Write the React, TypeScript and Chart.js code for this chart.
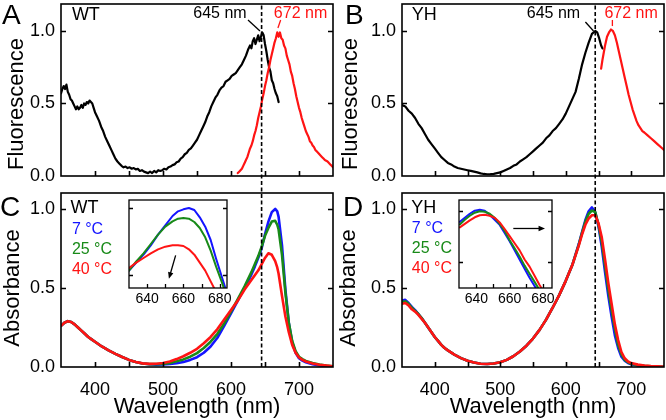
import React, { useEffect, useRef } from 'react';
import { Chart, registerables } from 'chart.js';

Chart.register(...registerables);

const FONT_FAMILY = '"Liberation Sans", Arial, Helvetica, sans-serif';
const W = 666;
const H = 420;

// ---------------- DATA ----------------
// Panel A (WT fluorescence): black excitation spectrum, red emission spectrum
const wtExcNm = [350, 352, 354, 356, 358, 360, 362, 364, 366, 368, 370, 372, 374, 376, 378, 380, 382, 384, 386, 388, 390, 392, 394, 396, 398, 400, 403, 406, 409, 412, 415, 418, 421, 424, 427, 430, 433, 436, 439, 442, 445, 448, 451, 454, 457, 460, 463, 466, 469, 472, 475, 478, 481, 484, 487, 490, 493, 496, 499, 502, 505, 508, 511, 514, 517, 520, 523, 526, 529, 532, 535, 538, 541, 544, 547, 550, 553, 556, 559, 562, 565, 568, 571, 574, 577, 580, 583, 586, 589, 592, 595, 598, 601, 604, 607, 610, 613, 616, 619, 622, 625, 628, 630, 632, 634, 636, 638, 640, 642, 644, 646, 648, 650, 652, 654, 656, 658, 660, 662, 664, 666, 668, 670];
const wtExcVal = [0.57, 0.60, 0.62, 0.60, 0.63, 0.58, 0.56, 0.53, 0.52, 0.50, 0.48, 0.46, 0.48, 0.46, 0.47, 0.49, 0.47, 0.50, 0.49, 0.51, 0.50, 0.52, 0.51, 0.50, 0.47, 0.44, 0.41, 0.38, 0.34, 0.31, 0.27, 0.24, 0.21, 0.18, 0.15, 0.12, 0.10, 0.085, 0.07, 0.06, 0.065, 0.055, 0.06, 0.05, 0.055, 0.045, 0.05, 0.035, 0.04, 0.03, 0.025, 0.02, 0.03, 0.02, 0.035, 0.025, 0.04, 0.035, 0.04, 0.05, 0.045, 0.06, 0.065, 0.075, 0.08, 0.095, 0.10, 0.12, 0.13, 0.15, 0.16, 0.18, 0.19, 0.21, 0.23, 0.25, 0.28, 0.31, 0.34, 0.37, 0.41, 0.44, 0.48, 0.51, 0.54, 0.56, 0.59, 0.61, 0.62, 0.65, 0.66, 0.67, 0.69, 0.70, 0.71, 0.73, 0.75, 0.77, 0.80, 0.83, 0.87, 0.90, 0.88, 0.93, 0.95, 0.91, 0.94, 0.97, 0.93, 0.96, 0.99, 0.97, 0.91, 0.86, 0.80, 0.75, 0.72, 0.66, 0.64, 0.60, 0.57, 0.55, 0.51];
const wtEmNm = [610, 612, 614, 616, 618, 620, 622, 624, 626, 628, 630, 632, 634, 636, 638, 640, 642, 644, 646, 648, 650, 652, 654, 656, 658, 660, 662, 664, 666, 668, 670, 672, 674, 676, 678, 680, 682, 684, 686, 688, 690, 692, 694, 696, 698, 700, 702, 704, 706, 708, 710, 712, 714, 716, 718, 720, 722, 724, 726, 728, 730, 732, 734, 736, 738, 740, 742, 744, 746, 748, 750];
const wtEmVal = [0.02, 0.03, 0.04, 0.05, 0.07, 0.09, 0.11, 0.13, 0.16, 0.19, 0.21, 0.24, 0.28, 0.31, 0.35, 0.40, 0.44, 0.48, 0.53, 0.57, 0.62, 0.66, 0.71, 0.75, 0.80, 0.84, 0.88, 0.92, 0.95, 0.99, 0.96, 0.99, 0.95, 0.94, 0.90, 0.88, 0.83, 0.80, 0.77, 0.72, 0.69, 0.64, 0.60, 0.55, 0.51, 0.47, 0.44, 0.40, 0.37, 0.34, 0.31, 0.29, 0.27, 0.24, 0.23, 0.21, 0.20, 0.18, 0.17, 0.16, 0.15, 0.14, 0.13, 0.12, 0.11, 0.105, 0.10, 0.09, 0.08, 0.07, 0.06];

// Panel B (YH fluorescence)
const yhExcNm = [350, 355, 360, 365, 370, 375, 380, 385, 390, 395, 400, 405, 410, 415, 420, 425, 430, 435, 440, 445, 450, 455, 460, 465, 470, 475, 480, 485, 490, 495, 500, 505, 510, 515, 520, 525, 530, 535, 540, 545, 550, 555, 560, 565, 570, 575, 580, 585, 590, 595, 600, 605, 610, 615, 620, 625, 630, 635, 640, 645, 648, 651, 654, 656];
const yhExcVal = [0.49, 0.48, 0.45, 0.43, 0.40, 0.36, 0.33, 0.29, 0.25, 0.22, 0.19, 0.16, 0.13, 0.11, 0.09, 0.08, 0.065, 0.055, 0.05, 0.045, 0.04, 0.035, 0.03, 0.025, 0.018, 0.014, 0.012, 0.013, 0.015, 0.02, 0.025, 0.035, 0.045, 0.055, 0.07, 0.08, 0.10, 0.115, 0.13, 0.15, 0.17, 0.19, 0.21, 0.23, 0.26, 0.28, 0.31, 0.33, 0.36, 0.39, 0.43, 0.48, 0.53, 0.58, 0.67, 0.77, 0.85, 0.92, 0.98, 1.00, 0.99, 0.95, 0.90, 0.88];
const yhEmNm = [654, 656, 658, 660, 663, 666, 669, 672, 675, 678, 681, 684, 687, 690, 693, 696, 699, 702, 705, 708, 711, 714, 717, 720, 725, 730, 735, 740, 745, 750];
const yhEmVal = [0.74, 0.80, 0.85, 0.90, 0.96, 0.99, 1.01, 1.00, 0.97, 0.92, 0.86, 0.80, 0.74, 0.68, 0.62, 0.56, 0.51, 0.46, 0.42, 0.38, 0.35, 0.33, 0.31, 0.30, 0.28, 0.26, 0.24, 0.22, 0.20, 0.18];

// Panel C (WT absorbance at 7, 25, 40 °C)
const wtAbsNm = [350, 355, 360, 365, 370, 375, 380, 385, 390, 395, 400, 410, 420, 430, 440, 450, 460, 470, 480, 490, 500, 510, 520, 530, 540, 550, 560, 570, 580, 590, 600, 610, 620, 630, 635, 640, 645, 650, 655, 660, 665, 668, 670, 675, 680, 685, 690, 695, 700, 705, 710, 720, 730, 740, 750];
const wtAbs7 = [0.26, 0.28, 0.29, 0.285, 0.27, 0.25, 0.23, 0.21, 0.19, 0.175, 0.16, 0.13, 0.105, 0.083, 0.063, 0.045, 0.032, 0.022, 0.017, 0.015, 0.016, 0.019, 0.024, 0.032, 0.045, 0.062, 0.09, 0.13, 0.185, 0.26, 0.34, 0.42, 0.50, 0.585, 0.635, 0.69, 0.75, 0.84, 0.92, 0.98, 1.00, 0.985, 0.95, 0.77, 0.49, 0.28, 0.155, 0.09, 0.055, 0.04, 0.03, 0.018, 0.01, 0.006, 0.003];
const wtAbs25 = [0.26, 0.28, 0.29, 0.285, 0.27, 0.25, 0.23, 0.21, 0.19, 0.175, 0.16, 0.13, 0.105, 0.083, 0.063, 0.045, 0.032, 0.022, 0.018, 0.018, 0.02, 0.026, 0.036, 0.048, 0.065, 0.088, 0.12, 0.16, 0.21, 0.275, 0.35, 0.43, 0.51, 0.60, 0.65, 0.70, 0.76, 0.83, 0.88, 0.92, 0.925, 0.90, 0.87, 0.71, 0.47, 0.28, 0.165, 0.10, 0.065, 0.05, 0.038, 0.025, 0.016, 0.01, 0.005];
const wtAbs40 = [0.26, 0.28, 0.29, 0.285, 0.27, 0.25, 0.23, 0.21, 0.19, 0.175, 0.16, 0.13, 0.105, 0.083, 0.063, 0.045, 0.032, 0.023, 0.02, 0.021, 0.025, 0.035, 0.05, 0.068, 0.09, 0.115, 0.15, 0.19, 0.24, 0.30, 0.36, 0.42, 0.49, 0.55, 0.58, 0.61, 0.65, 0.69, 0.72, 0.71, 0.67, 0.63, 0.59, 0.45, 0.32, 0.22, 0.14, 0.09, 0.06, 0.045, 0.035, 0.022, 0.014, 0.01, 0.005];

// Panel D (YH absorbance at 7, 25, 40 °C)
const yhAbsNm = [350, 355, 360, 365, 370, 375, 380, 385, 390, 395, 400, 405, 410, 415, 420, 430, 440, 450, 460, 470, 480, 490, 500, 510, 520, 530, 540, 550, 560, 570, 580, 590, 600, 610, 620, 625, 630, 635, 640, 645, 650, 655, 660, 665, 670, 675, 680, 685, 690, 695, 700, 710, 720, 730, 740, 750];
const yhAbs7 = [0.42, 0.425, 0.405, 0.38, 0.36, 0.335, 0.31, 0.28, 0.25, 0.22, 0.19, 0.165, 0.14, 0.12, 0.105, 0.078, 0.056, 0.04, 0.028, 0.021, 0.019, 0.022, 0.03, 0.045, 0.068, 0.098, 0.135, 0.18, 0.235, 0.30, 0.375, 0.455, 0.545, 0.645, 0.78, 0.855, 0.93, 0.985, 1.01, 0.98, 0.89, 0.76, 0.60, 0.45, 0.32, 0.20, 0.12, 0.065, 0.04, 0.025, 0.018, 0.01, 0.006, 0.004, 0.002, 0.001];
const yhAbs25 = [0.41, 0.415, 0.40, 0.375, 0.355, 0.335, 0.31, 0.28, 0.25, 0.22, 0.19, 0.165, 0.14, 0.12, 0.105, 0.078, 0.056, 0.04, 0.028, 0.021, 0.019, 0.022, 0.03, 0.045, 0.068, 0.098, 0.135, 0.18, 0.235, 0.30, 0.375, 0.455, 0.545, 0.645, 0.775, 0.85, 0.92, 0.97, 0.99, 0.98, 0.90, 0.79, 0.64, 0.49, 0.36, 0.24, 0.14, 0.08, 0.045, 0.03, 0.02, 0.012, 0.008, 0.005, 0.003, 0.001];
const yhAbs40 = [0.40, 0.405, 0.39, 0.365, 0.35, 0.33, 0.305, 0.28, 0.25, 0.22, 0.19, 0.165, 0.14, 0.12, 0.105, 0.078, 0.056, 0.04, 0.028, 0.021, 0.019, 0.022, 0.03, 0.045, 0.068, 0.098, 0.135, 0.18, 0.235, 0.30, 0.375, 0.455, 0.545, 0.645, 0.77, 0.84, 0.90, 0.94, 0.96, 0.96, 0.91, 0.82, 0.68, 0.53, 0.40, 0.27, 0.17, 0.095, 0.055, 0.035, 0.025, 0.015, 0.01, 0.006, 0.004, 0.002];

// Inset of C (zoom on WT Qy band)
const wtInsetNm = [630, 634, 638, 642, 646, 650, 654, 657, 660, 663, 666, 669, 672, 675, 678, 681, 684, 687];
const wtInset7 = [0.53, 0.59, 0.65, 0.72, 0.80, 0.87, 0.94, 0.975, 0.99, 1.0, 0.985, 0.93, 0.86, 0.76, 0.62, 0.49, 0.36, 0.25];
const wtInset25 = [0.53, 0.60, 0.66, 0.73, 0.80, 0.86, 0.90, 0.92, 0.925, 0.92, 0.895, 0.85, 0.78, 0.68, 0.56, 0.45, 0.33, 0.22];
const wtInset40 = [0.55, 0.59, 0.625, 0.66, 0.69, 0.71, 0.72, 0.72, 0.715, 0.69, 0.65, 0.59, 0.53, 0.45, 0.37, 0.29, 0.21, 0.14];

// Inset of D (zoom on YH Qy band)
const yhInsetNm = [630, 633, 636, 639, 642, 645, 648, 651, 654, 657, 660, 663, 666, 669, 672, 675, 678, 681, 684, 687];
const yhInset7 = [0.89, 0.93, 0.97, 1.0, 1.01, 1.0, 0.96, 0.91, 0.86, 0.78, 0.70, 0.61, 0.52, 0.43, 0.34, 0.26, 0.18, 0.11, 0.06, 0.03];
const yhInset25 = [0.865, 0.91, 0.95, 0.98, 0.995, 0.99, 0.97, 0.93, 0.87, 0.80, 0.71, 0.63, 0.55, 0.46, 0.38, 0.30, 0.22, 0.14, 0.08, 0.04];
const yhInset40 = [0.836, 0.87, 0.905, 0.935, 0.955, 0.96, 0.95, 0.93, 0.885, 0.82, 0.75, 0.68, 0.61, 0.52, 0.45, 0.36, 0.27, 0.19, 0.11, 0.06];

// Tick values & labels
const mainXLabels = [400, 500, 600, 700];
const mainXTickMarks = [400, 450, 500, 550, 600, 650, 700];
const mainYLabels = [0, 0.5, 1.0];
const mainYTickMarks = [0.5, 1.0];
const insetXLabels = [640, 660, 680];
const insetXTickMarks = [640, 650, 660, 670, 680];
const insetYTickMarks = [0.5, 1.0];
const tempLabels = ['7 °C', '25 °C', '40 °C'];
const markerNm = 645;
const peakLabels = ['645 nm', '672 nm'];

// ---------------- STYLE / LAYOUT ----------------
const BLACK = '#000000';
const BLUE = '#1414ff';
const GREEN = '#188a18';
const RED = '#ff1414';

const AREA_A = { left: 61, top: 4, right: 333, bottom: 176 };
const AREA_B = { left: 402, top: 4, right: 664, bottom: 176 };
const AREA_C = { left: 61, top: 193, right: 333, bottom: 367 };
const AREA_D = { left: 402, top: 193, right: 664, bottom: 367 };
const AREA_IC = { left: 129, top: 200, right: 227, bottom: 288 };
const AREA_ID = { left: 459, top: 200, right: 552, bottom: 288 };

type TextItem = {
  text: string; x: number; y: number; px?: boolean; color?: string; size?: number;
  align?: CanvasTextAlign; baseline?: CanvasTextBaseline; rotate?: boolean;
};
type Seg = { x1: number; y1: number; x2: number; y2: number; color?: string; head?: boolean; width?: number };
type Deco = {
  xTicks: number[]; yTicks: number[]; tickLen: number; frameWidth: number;
  vlineX?: number; vlineTop?: number; texts: TextItem[]; segs: Seg[];
};

function decoPlugin(d: Deco) {
  return {
    id: 'deco',
    afterDatasetsDraw(chart: any) {
      const { ctx, chartArea: a, scales } = chart;
      const x = scales.x;
      const y = scales.y;
      ctx.save();
      if (d.vlineX !== undefined) {
        const px = x.getPixelForValue(d.vlineX);
        ctx.strokeStyle = BLACK;
        ctx.lineWidth = 1.6;
        ctx.setLineDash([4, 2.5]);
        ctx.beginPath();
        ctx.moveTo(px, a.bottom);
        ctx.lineTo(px, d.vlineTop ?? a.top);
        ctx.stroke();
        ctx.setLineDash([]);
      }
      ctx.strokeStyle = BLACK;
      ctx.lineWidth = d.frameWidth;
      ctx.strokeRect(a.left, a.top, a.right - a.left, a.bottom - a.top);
      ctx.beginPath();
      for (const v of d.xTicks) {
        const px = Math.round(x.getPixelForValue(v)) + 0.5;
        ctx.moveTo(px, a.bottom);
        ctx.lineTo(px, a.bottom - d.tickLen);
      }
      for (const v of d.yTicks) {
        const py = Math.round(y.getPixelForValue(v)) + 0.5;
        ctx.moveTo(a.left, py);
        ctx.lineTo(a.left + d.tickLen, py);
        ctx.moveTo(a.right, py);
        ctx.lineTo(a.right - d.tickLen, py);
      }
      ctx.stroke();
      for (const s of d.segs) {
        const x1 = x.getPixelForValue(s.x1);
        const y1 = y.getPixelForValue(s.y1);
        const x2 = x.getPixelForValue(s.x2);
        const y2 = y.getPixelForValue(s.y2);
        ctx.strokeStyle = s.color || BLACK;
        ctx.fillStyle = s.color || BLACK;
        ctx.lineWidth = s.width || 1.3;
        const ang = Math.atan2(y2 - y1, x2 - x1);
        const hl = 7;
        const ex = s.head ? x2 - Math.cos(ang) * hl * 0.8 : x2;
        const ey = s.head ? y2 - Math.sin(ang) * hl * 0.8 : y2;
        ctx.beginPath();
        ctx.moveTo(x1, y1);
        ctx.lineTo(ex, ey);
        ctx.stroke();
        if (s.head) {
          ctx.beginPath();
          ctx.moveTo(x2, y2);
          ctx.lineTo(x2 - Math.cos(ang - 0.4) * hl, y2 - Math.sin(ang - 0.4) * hl);
          ctx.lineTo(x2 - Math.cos(ang + 0.4) * hl, y2 - Math.sin(ang + 0.4) * hl);
          ctx.closePath();
          ctx.fill();
        }
      }
      ctx.restore();
    },
    afterDraw(chart: any) {
      const { ctx, scales } = chart;
      ctx.save();
      for (const t of d.texts) {
        const px = t.px ? t.x : scales.x.getPixelForValue(t.x);
        const py = t.px ? t.y : scales.y.getPixelForValue(t.y);
        ctx.fillStyle = t.color || BLACK;
        ctx.font = `${t.size || 16}px ${FONT_FAMILY}`;
        ctx.textAlign = t.align || 'left';
        ctx.textBaseline = t.baseline || 'middle';
        if (t.rotate) {
          ctx.save();
          ctx.translate(px, py);
          ctx.rotate(-Math.PI / 2);
          ctx.fillText(t.text, 0, 0);
          ctx.restore();
        } else {
          ctx.fillText(t.text, px, py);
        }
      }
      ctx.restore();
    },
  };
}

const line = (xs: number[], ys: number[], color: string, width: number) => ({
  data: xs.map((x, i) => ({ x, y: ys[i] })),
  borderColor: color,
  backgroundColor: color,
  borderWidth: width,
  pointRadius: 0,
  fill: false,
  tension: 0,
});

type Spec = {
  area: { left: number; top: number; right: number; bottom: number };
  xMin: number; xMax: number; yMin: number; yMax: number;
  xAxisH: number; yAxisW: number;
  xLabels: number[]; showX: boolean; xFont: number; xPad: number; xTitle?: string;
  yLabels: number[]; showY: boolean; yFont: number; yPad: number;
  datasets: any[]; deco: Deco;
};

function makeConfig(p: Spec): any {
  return {
    type: 'line',
    data: { datasets: p.datasets },
    options: {
      animation: false,
      responsive: false,
      maintainAspectRatio: false,
      devicePixelRatio: 1,
      events: [],
      layout: {
        padding: {
          left: p.area.left - p.yAxisW,
          top: p.area.top,
          right: W - p.area.right,
          bottom: H - p.area.bottom - p.xAxisH,
        },
      },
      plugins: { legend: { display: false }, tooltip: { enabled: false } },
      elements: { point: { radius: 0 }, line: { tension: 0, borderJoinStyle: 'round', borderCapStyle: 'round' } },
      scales: {
        x: {
          type: 'linear', position: 'bottom', min: p.xMin, max: p.xMax, bounds: 'data',
          afterBuildTicks: (s: any) => { s.ticks = p.xLabels.map((v) => ({ value: v })); },
          afterFit: (s: any) => { s.height = p.xAxisH; s.paddingLeft = 0; s.paddingRight = 0; },
          grid: { display: false, drawTicks: false, tickLength: 0 }, border: { display: false },
          ticks: {
            display: p.showX, autoSkip: false, maxRotation: 0, minRotation: 0, padding: p.xPad, color: BLACK,
            font: { family: FONT_FAMILY, size: p.xFont }, callback: (v: any) => String(v),
          },
          title: { display: !!p.xTitle, text: p.xTitle || '', color: BLACK, font: { family: FONT_FAMILY, size: 22 }, padding: 0 },
        },
        y: {
          type: 'linear', position: 'left', min: p.yMin, max: p.yMax, bounds: 'data',
          afterBuildTicks: (s: any) => { s.ticks = p.yLabels.map((v) => ({ value: v })); },
          afterFit: (s: any) => { s.width = p.yAxisW; s.paddingTop = 0; s.paddingBottom = 0; },
          grid: { display: false, drawTicks: false, tickLength: 0 }, border: { display: false },
          ticks: {
            display: p.showY, padding: p.yPad, color: BLACK,
            font: { family: FONT_FAMILY, size: p.yFont }, callback: (v: any) => Number(v).toFixed(1),
          },
          title: { display: false },
        },
      },
    },
    plugins: [decoPlugin(p.deco)],
  };
}

const MAIN_COMMON = {
  xMin: 350, xMax: 750, yMin: 0, yAxisW: 53,
  xLabels: mainXLabels, xFont: 18, xPad: 12,
  yLabels: mainYLabels, showY: true, yFont: 18, yPad: 6,
};

const tempColors = [BLUE, GREEN, RED];

const configA = () => makeConfig({
  ...MAIN_COMMON, area: AREA_A, yMax: 1.186, xAxisH: 0, showX: false,
  datasets: [line(wtEmNm, wtEmVal, RED, 2.2), line(wtExcNm, wtExcVal, BLACK, 2.2)],
  deco: {
    xTicks: mainXTickMarks, yTicks: mainYTickMarks, tickLen: 5, frameWidth: 1.6,
    texts: [
      { text: 'A', x: 2, y: 23.5, px: true, size: 28, baseline: 'alphabetic' },
      { text: 'Fluorescence', x: 17, y: 104, px: true, size: 22, align: 'center', rotate: true },
      { text: 'WT', x: 366, y: 1.11, size: 18 },
      { text: peakLabels[0], x: 623, y: 1.12, size: 16, align: 'right' },
      { text: peakLabels[1], x: 663, y: 1.12, size: 16, color: RED },
    ],
    segs: [
      { x1: 625, y1: 1.076, x2: 642.6, y2: 1.0 },
      { x1: 673, y1: 1.076, x2: 669, y2: 1.02, color: RED },
    ],
  },
});

const configB = () => makeConfig({
  ...MAIN_COMMON, area: AREA_B, yMax: 1.186, xAxisH: 0, showX: false,
  datasets: [line(yhEmNm, yhEmVal, RED, 2.2), line(yhExcNm, yhExcVal, BLACK, 2.2)],
  deco: {
    xTicks: mainXTickMarks, yTicks: mainYTickMarks, tickLen: 5, frameWidth: 1.6,
    texts: [
      { text: 'B', x: 345, y: 23.5, px: true, size: 28, baseline: 'alphabetic' },
      { text: 'Fluorescence', x: 351, y: 104, px: true, size: 22, align: 'center', rotate: true },
      { text: 'YH', x: 365, y: 1.11, size: 18 },
      { text: peakLabels[0], x: 622, y: 1.12, size: 16, align: 'right' },
      { text: peakLabels[1], x: 659, y: 1.12, size: 16, color: RED },
    ],
    segs: [
      { x1: 630, y1: 1.062, x2: 642.4, y2: 1.0 },
      { x1: 671.2, y1: 1.076, x2: 671.2, y2: 1.034, color: RED },
    ],
  },
});

const configC = () => makeConfig({
  ...MAIN_COMMON, area: AREA_C, yMax: 1.101, xAxisH: 53, showX: true, xTitle: 'Wavelength (nm)',
  datasets: [line(wtAbsNm, wtAbs40, RED, 2.6), line(wtAbsNm, wtAbs25, GREEN, 2.6), line(wtAbsNm, wtAbs7, BLUE, 2.6)],
  deco: {
    xTicks: mainXTickMarks, yTicks: mainYTickMarks, tickLen: 5, frameWidth: 1.6,
    vlineX: markerNm, vlineTop: AREA_A.top,
    texts: [
      { text: 'C', x: 0, y: 216, px: true, size: 28, baseline: 'alphabetic' },
      { text: 'Absorbance', x: 12.5, y: 288, px: true, size: 22, align: 'center', rotate: true },
      { text: 'WT', x: 364, y: 1.006, size: 18 },
      { text: tempLabels[0], x: 366, y: 0.869, size: 16, color: tempColors[0] },
      { text: tempLabels[1], x: 366, y: 0.74, size: 16, color: tempColors[1] },
      { text: tempLabels[2], x: 366, y: 0.614, size: 16, color: tempColors[2] },
    ],
    segs: [],
  },
});

const configD = () => makeConfig({
  ...MAIN_COMMON, area: AREA_D, yMax: 1.101, xAxisH: 53, showX: true, xTitle: 'Wavelength (nm)',
  datasets: [line(yhAbsNm, yhAbs40, RED, 2.6), line(yhAbsNm, yhAbs25, GREEN, 2.6), line(yhAbsNm, yhAbs7, BLUE, 2.6)],
  deco: {
    xTicks: mainXTickMarks, yTicks: mainYTickMarks, tickLen: 5, frameWidth: 1.6,
    vlineX: markerNm, vlineTop: AREA_B.top,
    texts: [
      { text: 'D', x: 343, y: 216, px: true, size: 28, baseline: 'alphabetic' },
      { text: 'Absorbance', x: 349, y: 288, px: true, size: 22, align: 'center', rotate: true },
      { text: 'YH', x: 364, y: 1.006, size: 18 },
      { text: tempLabels[0], x: 365, y: 0.878, size: 16, color: tempColors[0] },
      { text: tempLabels[1], x: 365, y: 0.748, size: 16, color: tempColors[1] },
      { text: tempLabels[2], x: 365, y: 0.625, size: 16, color: tempColors[2] },
    ],
    segs: [],
  },
});

const INSET_COMMON = {
  yMin: 0, yAxisW: 0, xAxisH: 22, showX: true, xLabels: insetXLabels, xFont: 14, xPad: 3,
  yLabels: [] as number[], showY: false, yFont: 12, yPad: 0,
};

const configIC = () => makeConfig({
  ...INSET_COMMON, area: AREA_IC, xMin: 630, xMax: 684, yMin: 0.40, yMax: 1.06,
  datasets: [line(wtInsetNm, wtInset40, RED, 2), line(wtInsetNm, wtInset25, GREEN, 2), line(wtInsetNm, wtInset7, BLUE, 2)],
  deco: {
    xTicks: insetXTickMarks, yTicks: insetYTickMarks, tickLen: 4, frameWidth: 1.3,
    texts: [],
    segs: [{ x1: 655.7, y1: 0.645, x2: 652, y2: 0.47, head: true }],
  },
});

const configID = () => makeConfig({
  ...INSET_COMMON, area: AREA_ID, xMin: 629.5, xMax: 685.5, yMin: 0.24, yMax: 1.105,
  datasets: [line(yhInsetNm, yhInset40, RED, 2), line(yhInsetNm, yhInset25, GREEN, 2), line(yhInsetNm, yhInset7, BLUE, 2)],
  deco: {
    xTicks: insetXTickMarks, yTicks: insetYTickMarks, tickLen: 4, frameWidth: 1.3,
    texts: [],
    segs: [{ x1: 662.2, y1: 0.825, x2: 681.3, y2: 0.825, head: true }],
  },
});

function ChartCanvas({ make }: { make: () => any }) {
  const ref = useRef<HTMLCanvasElement>(null);
  useEffect(() => {
    if (!ref.current) return;
    const chart = new Chart(ref.current, make());
    return () => chart.destroy();
  }, [make]);
  return (
    <canvas
      ref={ref}
      width={W}
      height={H}
      style={{ position: 'absolute', left: 0, top: 0, width: W, height: H }}
    />
  );
}

const builders = [configA, configB, configC, configD, configIC, configID];

export default function App() {
  useEffect(() => {
    document.body.style.margin = '0';
    document.body.style.background = '#ffffff';
  }, []);
  return (
    <div style={{ position: 'absolute', left: 0, top: 0, width: W, height: H, background: '#ffffff', overflow: 'hidden' }}>
      {builders.map((b, i) => (
        <ChartCanvas key={i} make={b} />
      ))}
    </div>
  );
}
